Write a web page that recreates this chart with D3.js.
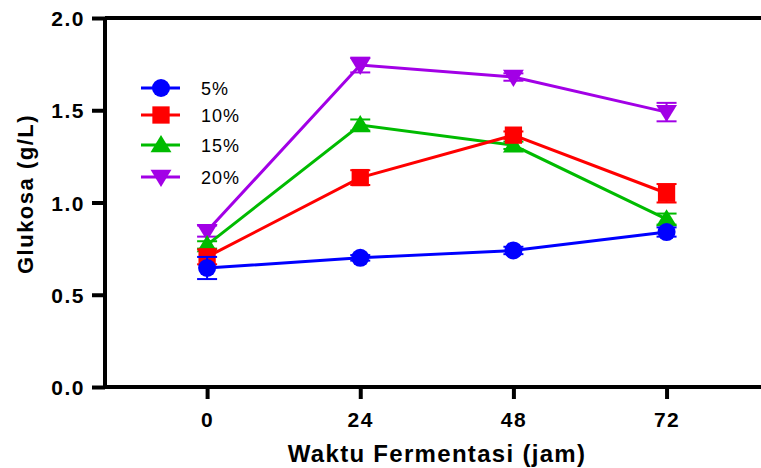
<!DOCTYPE html>
<html><head><meta charset="utf-8">
<script src="https://cdn.jsdelivr.net/npm/d3@7"></script>
<style>body{margin:0;background:#fff}svg{display:block}</style>
</head><body>
<svg id="c" width="761" height="468"></svg>
<script>
const times = [0, 24, 48, 72];
const seriesNames = ["5%", "10%", "15%", "20%"];
const colors = ["#0000ff", "#ff0000", "#00bb00", "#a200e6"];
const shapes = ["circle", "square", "triangle", "triangleDown"];
const v5 = [0.645, 0.70, 0.74, 0.84];
const e5 = [0.06, 0.015, 0.02, 0.025];
const v10 = [0.705, 1.135, 1.365, 1.05];
const e10 = [0.04, 0.04, 0.02, 0.05];
const v15 = [0.77, 1.42, 1.31, 0.91];
const e15 = [0.02, 0.03, 0.02, 0.03];
const v20 = [0.845, 1.745, 1.68, 1.49];
const e20 = [0.03, 0.04, 0.02, 0.05];
const yTicks = [0.0, 0.5, 1.0, 1.5, 2.0];
const xTicks = [0, 24, 48, 72];
const values = [v5, v10, v15, v20];
const errors = [e5, e10, e15, e20];

(function () {
const svg = d3.select("#c");
const pL = 105, pT = 18, pB = 387, pR = 761;
const x = d3.scaleLinear().domain([-16, 86.8]).range([pL, pR]);
const y = d3.scaleLinear().domain([0, 2]).range([pB, pT]);
const font = "'Liberation Sans', Arial, sans-serif";

svg.append("line").attr("x1", pL).attr("x2", pR).attr("y1", y(2)).attr("y2", y(2))
  .attr("stroke", "#000").attr("stroke-width", 4);

const yAxis = svg.append("g").attr("transform", `translate(${pL},0)`)
  .call(d3.axisLeft(y).tickValues(yTicks).tickFormat(d3.format(".1f")).tickSize(13).tickPadding(7));
const xAxis = svg.append("g").attr("transform", `translate(0,${pB})`)
  .call(d3.axisBottom(x).tickValues(xTicks).tickSize(12).tickPadding(13));
[yAxis, xAxis].forEach(g => {
  g.select(".domain").attr("stroke", "#000").attr("stroke-width", 4);
  g.selectAll(".tick line").attr("stroke", "#000").attr("stroke-width", 4);
  g.selectAll("text").attr("font-family", font).attr("font-weight", "bold")
    .attr("font-size", 21).attr("letter-spacing", 1.5).attr("fill", "#000");
});
yAxis.selectAll("text").attr("dy", "0.36em");
yAxis.select(".domain").attr("d", `M0,${y(2)}V${pB}`);
xAxis.select(".domain").attr("d", `M${pL - 2},0H${pR}`);

svg.append("text").attr("transform", `translate(33,${194}) rotate(-90)`)
  .attr("text-anchor", "middle").attr("font-family", font).attr("font-weight", "bold")
  .attr("font-size", 22).attr("letter-spacing", 1.5).text("Glukosa (g/L)");
svg.append("text").attr("x", 437).attr("y", 462)
  .attr("text-anchor", "middle").attr("font-family", font).attr("font-weight", "bold")
  .attr("font-size", 24).attr("letter-spacing", 1.3).text("Waktu Fermentasi (jam)");

function marker(g, shape, cx, cy, color, s) {
  if (shape === "circle") g.append("circle").attr("cx", cx).attr("cy", cy).attr("r", s * 0.5).attr("fill", color);
  else if (shape === "square") g.append("rect").attr("x", cx - s * 0.48).attr("y", cy - s * 0.48).attr("width", s * 0.96).attr("height", s * 0.96).attr("fill", color);
  else if (shape === "triangle") g.append("path").attr("d", `M${cx},${cy - s * 0.55}L${cx + s * 0.58},${cy + s * 0.4}L${cx - s * 0.58},${cy + s * 0.4}Z`).attr("fill", color);
  else g.append("path").attr("d", `M${cx},${cy + s * 0.55}L${cx + s * 0.58},${cy - s * 0.4}L${cx - s * 0.58},${cy - s * 0.4}Z`).attr("fill", color);
}

const line = d3.line().x(d => x(d[0])).y(d => y(d[1]));
for (let i = values.length - 1; i >= 0; i--) {
  const g = svg.append("g");
  const pts = times.map((t, j) => [t, values[i][j]]);
  g.append("path").attr("d", line(pts)).attr("fill", "none").attr("stroke", colors[i]).attr("stroke-width", 3);
  times.forEach((t, j) => {
    const cx = x(t), v = values[i][j], e = errors[i][j];
    g.append("line").attr("x1", cx).attr("x2", cx).attr("y1", y(v - e)).attr("y2", y(v + e)).attr("stroke", colors[i]).attr("stroke-width", 2);
    [v - e, v + e].forEach(w => g.append("line").attr("x1", cx - 10).attr("x2", cx + 10)
      .attr("y1", y(w)).attr("y2", y(w)).attr("stroke", colors[i]).attr("stroke-width", 2));
    marker(g, shapes[i], cx, y(v), colors[i], 18);
  });
}

const legY = [88, 115, 145, 177];
seriesNames.forEach((n, i) => {
  const g = svg.append("g");
  g.append("line").attr("x1", 141).attr("x2", 180).attr("y1", legY[i]).attr("y2", legY[i])
    .attr("stroke", colors[i]).attr("stroke-width", 3);
  marker(g, shapes[i], 161, legY[i], colors[i], 18);
  g.append("text").attr("x", 201).attr("y", legY[i] + 6.5).attr("font-family", font)
    .attr("font-size", 18).attr("letter-spacing", 1).attr("fill", "#000").text(n);
});
})();
</script>
</body></html>
